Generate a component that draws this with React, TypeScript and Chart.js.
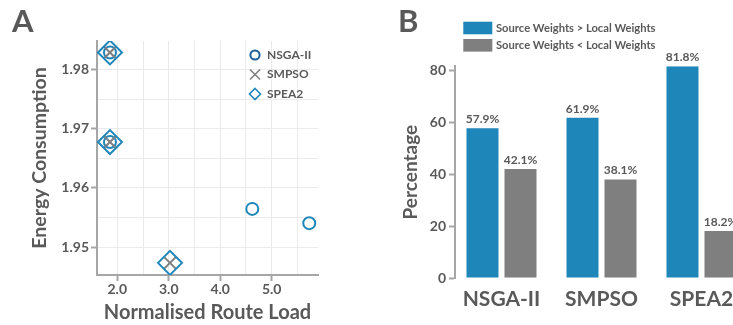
import React, { useEffect, useRef } from 'react';
import { Chart, registerables } from 'chart.js';

Chart.register(...registerables);

const FONT = 'Lato, "Open Sans", sans-serif';
const TEXT = '#595959';
const AXIS = '#a6a6a6';
const GRID = '#ebebeb';
const BLUE = '#1f86b9';
const NAVY = '#1b5f98';
const GRAY = '#7f7f7f';

// ---------- Panel A data ----------
const seriesNames = ['NSGA-II', 'SMPSO', 'SPEA2'];
const nsgaX = [1.858, 1.858, 4.623, 5.73];
const nsgaY = [1.98287, 1.96774, 1.95646, 1.95405];
const smpsoX = [1.858, 1.858, 3.024];
const smpsoY = [1.98287, 1.96774, 1.94735];
const spea2X = [1.858, 1.858, 3.024];
const spea2Y = [1.98287, 1.96774, 1.94735];
const xGridTicks = [2.0, 2.5, 3.0, 3.5, 4.0, 4.5, 5.0, 5.5];
const xLabelTicks = [2.0, 3.0, 4.0, 5.0];
const yGridTicks = [1.95, 1.955, 1.96, 1.965, 1.97, 1.975, 1.98];
const yLabelTicks = [1.95, 1.96, 1.97, 1.98];

// ---------- Panel B data ----------
const categories = ['NSGA-II', 'SMPSO', 'SPEA2'];
const legendB = ['Source Weights > Local Weights', 'Source Weights < Local Weights'];
const greaterPct = [57.9, 61.9, 81.8];
const lessPct = [42.1, 38.1, 18.2];
const yTicksB = [0, 20, 40, 60, 80];

const isIn = (list: number[], v: number) => list.some((t) => Math.abs(t - v) < 1e-9);
const bold = (size: number) => ({ family: FONT, size, weight: 'bold' as const });

const letterPlugin = (letter: string, x: number) => ({
  id: 'letter' + letter,
  afterDraw(chart: any) {
    const ctx = chart.ctx;
    ctx.save();
    ctx.font = `bold 31px ${FONT}`;
    ctx.fillStyle = TEXT;
    ctx.textBaseline = 'alphabetic';
    ctx.textAlign = 'left';
    ctx.fillText(letter, x, 32);
    ctx.restore();
  },
});

const legendAPlugin = {
  id: 'legendA',
  afterDraw(chart: any) {
    const { ctx, chartArea } = chart;
    const styles = ['circle', 'cross', 'diamond'];
    ctx.save();
    seriesNames.forEach((name, i) => {
      const mx = chartArea.right - 63;
      const my = chartArea.top + 14 + i * 19.5;
      ctx.beginPath();
      if (styles[i] === 'circle') {
        ctx.strokeStyle = NAVY;
        ctx.lineWidth = 2;
        ctx.arc(mx, my, 4.6, 0, Math.PI * 2);
      } else if (styles[i] === 'cross') {
        ctx.strokeStyle = GRAY;
        ctx.lineWidth = 1.6;
        ctx.moveTo(mx - 5, my - 5);
        ctx.lineTo(mx + 5, my + 5);
        ctx.moveTo(mx + 5, my - 5);
        ctx.lineTo(mx - 5, my + 5);
      } else {
        ctx.strokeStyle = BLUE;
        ctx.lineWidth = 1.6;
        ctx.moveTo(mx, my - 5.5);
        ctx.lineTo(mx + 5.5, my);
        ctx.lineTo(mx, my + 5.5);
        ctx.lineTo(mx - 5.5, my);
        ctx.closePath();
      }
      ctx.stroke();
      ctx.font = `bold 12px ${FONT}`;
      ctx.fillStyle = TEXT;
      ctx.textBaseline = 'middle';
      ctx.textAlign = 'left';
      ctx.fillText(name, mx + 12, my);
    });
    ctx.restore();
  },
};

const legendBPlugin = {
  id: 'legendB',
  afterDraw(chart: any) {
    const ctx = chart.ctx;
    const colors = [BLUE, GRAY];
    ctx.save();
    legendB.forEach((label, i) => {
      const top = 21.7 + i * 17.3;
      ctx.fillStyle = colors[i];
      ctx.fillRect(93.3, top, 29, 12.6);
      ctx.font = `bold 11.2px ${FONT}`;
      ctx.fillStyle = TEXT;
      ctx.textBaseline = 'middle';
      ctx.textAlign = 'left';
      ctx.fillText(label, 126, top + 6.5);
    });
    ctx.restore();
  },
};

const barLabelPlugin = {
  id: 'barLabels',
  afterDatasetsDraw(chart: any) {
    const ctx = chart.ctx;
    ctx.save();
    ctx.font = `bold 12px ${FONT}`;
    ctx.fillStyle = TEXT;
    ctx.textAlign = 'center';
    ctx.textBaseline = 'alphabetic';
    chart.data.datasets.forEach((ds: any, di: number) => {
      const meta = chart.getDatasetMeta(di);
      meta.data.forEach((el: any, i: number) => {
        ctx.fillText(ds.data[i].y.toFixed(1) + '%', el.x, el.y - 5);
      });
    });
    ctx.restore();
  },
};

function PanelA() {
  const ref = useRef<HTMLCanvasElement>(null);
  useEffect(() => {
    const pts = (xs: number[], ys: number[]) => xs.map((x, i) => ({ x, y: ys[i] }));
    const chart = new Chart(ref.current as HTMLCanvasElement, {
      type: 'scatter',
      data: {
        datasets: [
          {
            label: seriesNames[0],
            data: pts(nsgaX, nsgaY),
            pointStyle: 'circle',
            pointRadius: 6,
            borderWidth: 2,
            borderColor: BLUE,
            backgroundColor: 'rgba(0,0,0,0)',
            order: 2,
          },
          {
            label: seriesNames[1],
            data: pts(smpsoX, smpsoY),
            pointStyle: 'crossRot',
            pointRadius: 8.5,
            borderWidth: 2,
            borderColor: GRAY,
            backgroundColor: 'rgba(0,0,0,0)',
            order: 1,
          },
          {
            label: seriesNames[2],
            data: pts(spea2X, spea2Y),
            pointStyle: 'rectRot',
            pointRadius: 12,
            borderWidth: 2,
            borderColor: BLUE,
            backgroundColor: 'rgba(0,0,0,0)',
            order: 0,
          },
        ],
      },
      options: {
        responsive: false,
        animation: false,
        events: [],
        layout: { padding: { left: 0, top: 41, right: 47, bottom: 0 } },
        plugins: { legend: { display: false }, tooltip: { enabled: false } },
        scales: {
          x: {
            type: 'linear',
            offset: false,
            min: 1.606,
            max: 5.9,
            afterBuildTicks: (s: any) => {
              s.ticks = xGridTicks.map((value) => ({ value }));
            },
            afterFit: (s: any) => {
              s.height = 50;
            },
            grid: {
              color: GRID,
              lineWidth: 1,
              tickLength: 6,
              tickWidth: 2,
              tickColor: (c: any) => (isIn(xLabelTicks, c.tick.value) ? AXIS : 'rgba(0,0,0,0)'),
            },
            border: { color: AXIS, width: 2 },
            ticks: {
              autoSkip: false,
              maxRotation: 0,
              padding: 0,
              color: TEXT,
              font: bold(14),
              callback: (v: any) => (isIn(xLabelTicks, Number(v)) ? Number(v).toFixed(1) : ''),
            },
            title: {
              display: true,
              text: 'Normalised Route Load',
              color: TEXT,
              font: bold(20),
              padding: { top: 0, bottom: 0 },
            },
          },
          y: {
            type: 'linear',
            min: 1.9453,
            max: 1.9848,
            afterBuildTicks: (s: any) => {
              s.ticks = yGridTicks.map((value) => ({ value }));
            },
            afterFit: (s: any) => {
              s.width = 97;
            },
            grid: {
              color: GRID,
              lineWidth: 1,
              tickLength: 6,
              tickWidth: 2,
              tickColor: (c: any) => (isIn(yLabelTicks, c.tick.value) ? AXIS : 'rgba(0,0,0,0)'),
            },
            border: { color: AXIS, width: 2 },
            ticks: {
              autoSkip: false,
              padding: 2,
              color: TEXT,
              font: bold(14),
              callback: (v: any) => (isIn(yLabelTicks, Number(v)) ? Number(v).toFixed(2) : ''),
            },
            title: {
              display: true,
              text: 'Energy Consumption',
              color: TEXT,
              font: bold(19.5),
              padding: { top: 28.3, bottom: 0 },
            },
          },
        },
      } as any,
      plugins: [legendAPlugin, letterPlugin('A', 12)],
    });
    return () => chart.destroy();
  }, []);
  return (
    <canvas
      ref={ref}
      width={365}
      height={325}
      style={{ position: 'absolute', left: 0, top: 0, width: 365, height: 325 }}
    />
  );
}

function PanelB() {
  const ref = useRef<HTMLCanvasElement>(null);
  useEffect(() => {
    const chart = new Chart(ref.current as HTMLCanvasElement, {
      type: 'bar',
      data: {
        datasets: [
          {
            label: legendB[0],
            data: categories.map((_, i) => ({ x: i, y: greaterPct[i] })),
            backgroundColor: BLUE,
          },
          {
            label: legendB[1],
            data: categories.map((_, i) => ({ x: i, y: lessPct[i] })),
            backgroundColor: GRAY,
          },
        ],
      },
      options: {
        responsive: false,
        animation: false,
        events: [],
        datasets: { bar: { categoryPercentage: 0.76, barPercentage: 0.842 } },
        layout: { padding: { left: 0, top: 66.3, right: 0, bottom: 0 } },
        plugins: { legend: { display: false }, tooltip: { enabled: false } },
        scales: {
          x: {
            type: 'linear',
            offset: false,
            min: -0.465,
            max: 2.685,
            afterBuildTicks: (s: any) => {
              s.ticks = categories.map((_, i) => ({ value: i }));
            },
            afterFit: (s: any) => {
              s.height = 47;
            },
            grid: { display: false, drawTicks: false, offset: false },
            border: { display: false },
            ticks: {
              autoSkip: false,
              maxRotation: 0,
              padding: 9,
              color: TEXT,
              font: bold(21),
              callback: (v: any) => categories[Math.round(Number(v))] ?? '',
            },
          },
          y: {
            type: 'linear',
            min: 0,
            max: 81.8,
            afterBuildTicks: (s: any) => {
              s.ticks = yTicksB.map((value) => ({ value }));
            },
            afterFit: (s: any) => {
              s.width = 85;
            },
            grid: { drawOnChartArea: false, tickLength: 6, tickWidth: 2, tickColor: AXIS },
            border: { color: AXIS, width: 2 },
            ticks: { padding: 3, color: TEXT, font: bold(14) },
            title: {
              display: true,
              text: 'Percentage',
              color: TEXT,
              font: bold(19),
              padding: { top: 29.6, bottom: 0 },
            },
          },
        },
      } as any,
      plugins: [barLabelPlugin, legendBPlugin, letterPlugin('B', 28)],
    });
    return () => chart.destroy();
  }, []);
  return (
    <canvas
      ref={ref}
      width={400}
      height={325}
      style={{ position: 'absolute', left: 370, top: 0, width: 400, height: 325 }}
    />
  );
}

export default function App() {
  return (
    <div
      style={{
        position: 'fixed',
        left: 0,
        top: 0,
        width: 733,
        height: 325,
        overflow: 'hidden',
        background: '#ffffff',
      }}
    >
      <PanelA />
      <PanelB />
    </div>
  );
}
